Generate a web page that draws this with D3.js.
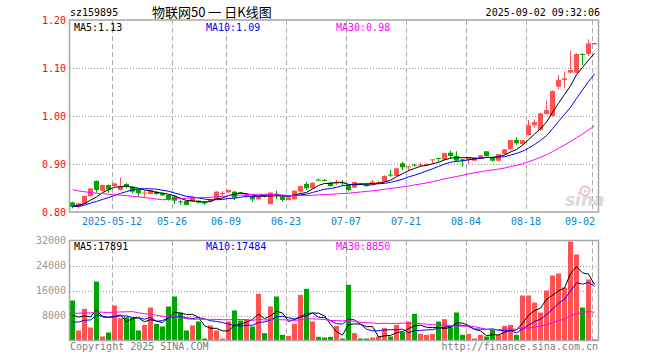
<!DOCTYPE html>
<html><head><meta charset="utf-8">
<script src="https://cdn.jsdelivr.net/npm/d3@7"></script>
<style>
body{margin:0;background:#fff}
svg{display:block}
text{font-family:"DejaVu Sans Mono","Liberation Mono",monospace;font-size:10px}
</style>
</head><body>
<svg id="c" width="660" height="360"></svg>
<script>
// ---------- DATA ----------
const dates = ["04-28","04-29","04-30",
"05-06","05-07","05-08","05-09","05-12","05-13","05-14","05-15","05-16","05-19","05-20","05-21","05-22","05-23","05-26","05-27","05-28","05-29","05-30",
"06-03","06-04","06-05","06-06","06-09","06-10","06-11","06-12","06-13","06-16","06-17","06-18","06-19","06-20","06-23","06-24","06-25","06-26","06-27","06-30",
"07-01","07-02","07-03","07-04","07-07","07-08","07-09","07-10","07-11","07-14","07-15","07-16","07-17","07-18","07-21","07-22","07-23","07-24","07-25","07-28","07-29","07-30","07-31",
"08-01","08-04","08-05","08-06","08-07","08-08","08-11","08-12","08-13","08-14","08-15","08-18","08-19","08-20","08-21","08-22","08-25","08-26","08-27","08-28","08-29",
"09-01","09-02"];

const opens = [.8201,.8104,.8167,.8333,.8646,.8444,.8562,.8540,.8458,.8583,
.8528,.8472,.8396,.8375,.8424,.8389,.8354,.8320,.8222,.8229,
.8215,.8236,.8215,.8222,.8264,.8385,.8410,.8424,.8410,.8347,
.8333,.8264,.8347,.8167,.8382,.8320,.8250,.8264,.8424,.8583,
.8493,.8674,.8667,.8611,.8604,.8618,.8563,.8507,.8597,.8576,
.8583,.8597,.8632,.8778,.8750,.9014,.8931,.8986,.8979,.8993,
.9076,.9125,.9090,.9236,.9167,.9097,.9083,.9069,.9111,.9264,
.9139,.9069,.9208,.9306,.9500,.9417,.9604,.9806,.9708,1.0042,
1.0000,1.0611,1.0750,1.0903,1.0903,1.1292,1.1292,1.1514];

const highs = [.8215,.8188,.8340,.8500,.8660,.8570,.8570,.8610,.8722,.8610,
.8535,.8480,.8444,.8465,.8440,.8400,.8360,.8354,.8264,.8236,
.8320,.8250,.8222,.8270,.8430,.8438,.8465,.8438,.8420,.8396,
.8340,.8330,.8354,.8417,.8444,.8330,.8310,.8450,.8550,.8625,
.8618,.8700,.8690,.8632,.8667,.8667,.8570,.8632,.8604,.8590,
.8667,.8653,.8764,.8875,.8917,.9049,.8958,.8993,.9028,.9014,
.9097,.9125,.9236,.9278,.9264,.9104,.9146,.9146,.9188,.9271,
.9146,.9215,.9313,.9507,.9556,.9507,.9917,.9931,1.0069,1.0319,
1.0535,1.0854,1.0924,1.1361,1.1306,1.1306,1.1597,1.1521];

const lows = [.8076,.8070,.8160,.8320,.8403,.8430,.8390,.8530,.8450,.8490,
.8390,.8333,.8306,.8368,.8360,.8330,.8236,.8167,.8146,.8140,
.8208,.8180,.8146,.8215,.8257,.8333,.8400,.8250,.8375,.8285,
.8215,.8257,.8300,.8153,.8264,.8215,.8240,.8257,.8389,.8458,
.8486,.8650,.8646,.8528,.8563,.8549,.8438,.8500,.8563,.8528,
.8576,.8583,.8625,.8736,.8743,.8875,.8854,.8944,.8944,.8972,
.9000,.9049,.9076,.9118,.9062,.8944,.9000,.9062,.9104,.9160,
.9049,.9049,.9194,.9285,.9396,.9403,.9590,.9764,.9694,1.0028,
.9986,1.0556,1.0576,1.0889,1.0889,1.1063,1.1250,1.1500];

const closes = [.8104,.8180,.8333,.8490,.8458,.8562,.8472,.8597,.8542,.8528,
.8424,.8389,.8403,.8458,.8375,.8347,.8264,.8236,.8208,.8146,
.8306,.8194,.8180,.8264,.8424,.8396,.8458,.8300,.8396,.8354,
.8264,.8320,.8320,.8403,.8375,.8250,.8306,.8444,.8542,.8493,
.8610,.8667,.8660,.8542,.8611,.8604,.8458,.8625,.8576,.8542,
.8632,.8625,.8750,.8764,.8910,.8931,.8951,.8979,.8993,.9000,
.9097,.9111,.9230,.9167,.9069,.9069,.9139,.9139,.9181,.9167,
.9069,.9208,.9306,.9500,.9431,.9500,.9806,.9875,1.0056,1.0125,
1.0521,1.0750,1.0785,1.0958,1.1292,1.1271,1.1514,1.1500];

const volumes = [12800,3200,10130,4160,18880,1280,2560,11200,7150,7470,
7150,3200,5000,10560,5330,4480,10880,14080,8960,3200,
4800,6080,640,4800,3200,640,6080,9600,6400,6830,
4480,14930,2350,10880,14080,1810,1490,5330,14610,16530,
6080,1170,960,1170,4690,640,17800,2350,640,640,
960,1280,3950,1280,5000,2670,6080,8530,2130,1810,
2130,6080,6830,4270,8960,1810,2130,640,1810,1280,
3410,1810,4690,5000,1810,14400,14400,12160,8960,16000,
20800,21440,16960,31680,27520,10560,19520,320];

// estimated sessions before the visible window (needed for the moving averages)
const priorCloses = [0.892,0.888,0.895,0.890,0.884,0.886,0.880,0.889,0.884,0.876,
0.879,0.887,0.890,0.885,0.878,0.805,0.790,0.798,0.802,0.805,
0.808,0.812,0.806,0.811,0.813,0.810,0.815,0.812,0.813];
const priorVolumes = [5800,6400,5200,6900,6100,5500,6700,5900,6200,5300,
13800,15600,14200,16100,12900,17300,14800,13500,14400,12400,
3200,4500,2900,4100,3800,6200,8400,5700,7400];

const priceTicks = [0.80,0.90,1.00,1.10,1.20];
const priceTickLabels = ["0.80","0.90","1.00","1.10","1.20"];
const volTicks = [8000,16000,24000,32000];
const volTickLabels = ["8000","16000","24000","32000"];
const dateTicks = ["05-12","05-26","06-09","06-23","07-07","07-21","08-04","08-18","09-02"];
const dateTickLabels = ["2025-05-12","05-26","06-09","06-23","07-07","07-21","08-04","08-18","09-02"];
const maPeriods = [5,10,30];
const maColors = ["#000000","#0000ff","#ff00ff"];
const priceLegend = ["MA5:1.13","MA10:1.09","MA30:0.98"];
const volLegend = ["MA5:17891","MA10:17484","MA30:8850"];
const headerCode = "sz159895";
const headerTitle = "物联网50 一 日K线图";
const headerTime = "2025-09-02 09:32:06";
const footerLeft = "Copyright 2025 SINA.COM";
const footerRight = "http://finance.sina.com.cn";

// ---------- LAYOUT ----------
const L = 70, R = 598;
const pTop = 20, pBot = 212;
const vTop = 240.5, vBot = 340.5;
const RED = "#ff5252", GREEN = "#00a600";

const svg = d3.select("#c");
svg.append("rect").attr("width",660).attr("height",360).attr("fill","#fff");

const x = d3.scaleBand().domain(dates).range([L, R]).padding(0);
const bw = x.bandwidth();
const yP = d3.scaleLinear().domain([0.8,1.2]).range([pBot,pTop]);
const yV = d3.scaleLinear().domain([0,32000]).range([vBot,vTop]);

const n = dates.length;
const allC = priorCloses.concat(closes);
const allV = priorVolumes.concat(volumes);
const off = priorCloses.length;
function ma(arr, p){
  return d3.range(n).map(i => d3.mean(arr.slice(i+off-p+1, i+off+1)));
}
const candles = dates.map((d,i)=>({d, o:opens[i], h:highs[i], l:lows[i], c:closes[i], v:volumes[i], up: closes[i] >= opens[i]}));

// ---------- GRID ----------
const grid = svg.append("g");
// horizontal dotted
grid.selectAll(".hp").data(priceTicks.filter(t=>t>0.8 && t<1.2)).join("line")
  .attr("x1",L).attr("x2",R).attr("y1",d=>Math.round(yP(d))+0.5).attr("y2",d=>Math.round(yP(d))+0.5)
  .attr("stroke","#999").attr("stroke-dasharray","1,2");
grid.selectAll(".hv").data(volTicks.filter(t=>t<32000)).join("line")
  .attr("x1",L).attr("x2",R).attr("y1",d=>Math.round(yV(d))+0.5).attr("y2",d=>Math.round(yV(d))+0.5)
  .attr("stroke","#999").attr("stroke-dasharray","1,2");
// vertical dashed
[[pTop,pBot],[vTop,vBot]].forEach(([a,b])=>{
  grid.append("g").selectAll("line").data(dateTicks).join("line")
    .attr("x1",d=>x(d)+0.5).attr("x2",d=>x(d)+0.5).attr("y1",a).attr("y2",b)
    .attr("stroke","#aaa").attr("stroke-dasharray","5,3");
});

// ---------- WATERMARK ----------
const wm = svg.append("g").attr("opacity",0.9);
wm.append("circle").attr("cx",585).attr("cy",191).attr("r",4.5).attr("fill","none").attr("stroke","#f2b9b9").attr("stroke-width",2);
wm.append("circle").attr("cx",585).attr("cy",191).attr("r",1.5).attr("fill","#f2b9b9");
wm.append("text").attr("x",565).attr("y",206).text("sina")
  .style("font-family","DejaVu Sans").style("font-size","17px").style("font-weight","bold").style("font-style","italic")
  .attr("fill","#d6d6d6");

// ---------- CANDLES ----------
const cg = svg.append("g");
cg.selectAll("line").data(candles).join("line")
  .attr("x1",d=>x(d.d)+2.5).attr("x2",d=>x(d.d)+2.5)
  .attr("y1",d=>yP(d.h)).attr("y2",d=>yP(d.l))
  .attr("stroke",d=>d.up?RED:GREEN).attr("stroke-width",1);
cg.selectAll("rect").data(candles).join("rect")
  .attr("x",d=>x(d.d)).attr("width",bw-1)
  .attr("y",d=>yP(Math.max(d.o,d.c)))
  .attr("height",d=>Math.max(1, Math.abs(yP(d.o)-yP(d.c))))
  .attr("fill",d=>d.up?RED:GREEN);

// ---------- VOLUME BARS ----------
svg.append("g").selectAll("rect").data(candles).join("rect")
  .attr("x",d=>x(d.d)).attr("width",bw-1)
  .attr("y",d=>yV(d.v)).attr("height",d=>vBot-yV(d.v))
  .attr("fill",d=>d.up?RED:GREEN);

// ---------- MA LINES ----------
maPeriods.forEach((p,k)=>{
  const mp = ma(allC,p), mv = ma(allV,p);
  svg.append("path").datum(mp)
    .attr("d", d3.line().x((v,i)=>x(dates[i])+2.5).y(v=>yP(v)))
    .attr("fill","none").attr("stroke",maColors[k]).attr("stroke-width",1);
  svg.append("path").datum(mv)
    .attr("d", d3.line().x((v,i)=>x(dates[i])+2.5).y(v=>yV(v)))
    .attr("fill","none").attr("stroke",maColors[k]).attr("stroke-width",1);
});

// ---------- FRAMES ----------
[[pTop,pBot],[vTop,vBot]].forEach(([a,b])=>{
  svg.append("rect").attr("x",L-0.5).attr("y",a).attr("width",R-L+1).attr("height",b-a)
    .attr("fill","none").attr("stroke","#a6a6a6").attr("stroke-width",1.5);
});

// ---------- AXES ----------
const ap = svg.append("g").attr("transform",`translate(${L-4},0)`)
  .call(d3.axisLeft(yP).tickValues(priceTicks).tickFormat((d,i)=>priceTickLabels[i]).tickSize(0).tickPadding(0));
ap.select(".domain").remove();
ap.selectAll("text").attr("fill","#ff0000").style("font-family","DejaVu Sans Mono").style("font-size","10px");

const av = svg.append("g").attr("transform",`translate(${L-4},0)`)
  .call(d3.axisLeft(yV).tickValues(volTicks).tickFormat((d,i)=>volTickLabels[i]).tickSize(0).tickPadding(0));
av.select(".domain").remove();
av.selectAll("text").attr("fill","#999").style("font-family","DejaVu Sans Mono").style("font-size","10px");

const ax = svg.append("g").attr("transform",`translate(${-bw/2},${pBot+4})`)
  .call(d3.axisBottom(x).tickValues(dateTicks).tickFormat((d,i)=>dateTickLabels[i]).tickSize(0).tickPadding(2));
ax.select(".domain").remove();
ax.selectAll("text").attr("fill","#0a84d4").style("font-family","DejaVu Sans Mono").style("font-size","10px");
// keep the last label inside the frame
ax.selectAll(".tick").each(function(d){
  const t = d3.select(this).select("text");
  const w = t.node().getComputedTextLength();
  const cx = x(d);
  const maxC = R - 3 - w/2;
  if (cx > maxC) t.attr("x", maxC - cx);
});

// ---------- LEGENDS ----------
const legX = [74, 206, 336];
priceLegend.forEach((s,k)=>svg.append("text").attr("x",legX[k]).attr("y",31).attr("fill",maColors[k]).text(s));
volLegend.forEach((s,k)=>svg.append("text").attr("x",legX[k]).attr("y",250).attr("fill",maColors[k]).text(s));

// ---------- HEADER / FOOTER ----------
svg.append("text").attr("x",70).attr("y",16).attr("fill","#000").text(headerCode);
svg.append("text").attr("x",152).attr("y",17).attr("fill","#000")
  .style("font-family","'Noto Sans CJK SC','DejaVu Sans'").style("font-size","13px").text(headerTitle);
svg.append("text").attr("x",600).attr("y",16).attr("text-anchor","end").attr("fill","#000").text(headerTime);
svg.append("text").attr("x",70).attr("y",350).attr("fill","#808080").text(footerLeft);
svg.append("text").attr("x",598).attr("y",350).attr("text-anchor","end").attr("fill","#808080").text(footerRight);
</script>
</body></html>
